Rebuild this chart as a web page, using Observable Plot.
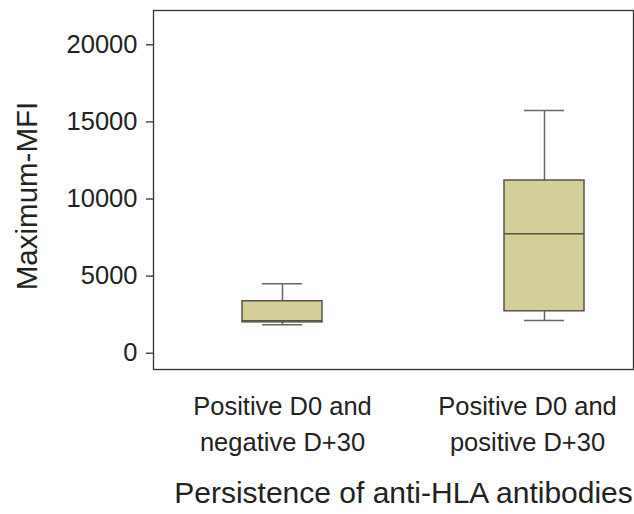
<!DOCTYPE html>
<html>
<head>
<meta charset="utf-8">
<script src="https://cdn.jsdelivr.net/npm/d3@7"></script>
<script src="https://cdn.jsdelivr.net/npm/@observablehq/plot@0.6"></script>
<style>
  html, body { margin: 0; padding: 0; background: #fff; }
  svg { font-family: "Liberation Sans", Arial, sans-serif; }
</style>
</head>
<body>
<div id="chart"></div>
<script>
// Data
const categories = ["Positive D0 and negative D+30", "Positive D0 and positive D+30"];
const tickLabels = ["Positive D0 and\nnegative D+30", "Positive D0 and\npositive D+30"];
const whiskerLow = [1850, 2120];
const q1 = [2000, 2720];
const median = [2100, 7740];
const q3 = [3370, 11200];
const whiskerHigh = [4500, 15740];
const yTicks = [0, 5000, 10000, 15000, 20000];
const xTitle = "Persistence of anti-HLA antibodies";
const yTitle = "Maximum-MFI";

const rows = categories.map((c, i) => ({
  cat: c, lo: whiskerLow[i], q1: q1[i], med: median[i], q3: q3[i], hi: whiskerHigh[i]
}));

const fill = "#d4cf98";
const stroke = "#55554a";

const chart = Plot.plot({
  width: 634,
  height: 514,
  marginLeft: 153,
  marginRight: 1,
  marginTop: 10,
  marginBottom: 145,
  style: {fontFamily: "Liberation Sans, Arial, sans-serif", color: "#222", background: "#fff"},
  x: {type: "band", domain: categories, range: [151, 675], padding: 0, axis: null},
  y: {domain: [-1057, 22225], ticks: yTicks, label: null},
  marks: [
    Plot.axisY(yTicks, {tickSize: 7, tickPadding: 9, fontSize: 25.5, tickFormat: d => String(d), stroke: "#222", strokeWidth: 1.2}),
    Plot.ruleX(rows, {x: "cat", y1: "lo", y2: "q1", stroke: "#666", strokeWidth: 1.5}),
    Plot.ruleX(rows, {x: "cat", y1: "q3", y2: "hi", stroke: "#666", strokeWidth: 1.5}),
    Plot.tickY(rows, {x: "cat", y: "lo", insetLeft: 111, insetRight: 111, stroke: "#666", strokeWidth: 1.5}),
    Plot.tickY(rows, {x: "cat", y: "hi", insetLeft: 111, insetRight: 111, stroke: "#666", strokeWidth: 1.5}),
    Plot.barY(rows, {x: "cat", y1: "q1", y2: "q3", insetLeft: 91, insetRight: 91, fill: fill, stroke: stroke, strokeWidth: 1.5}),
    Plot.tickY(rows, {x: "cat", y: "med", insetLeft: 91, insetRight: 91, stroke: stroke, strokeWidth: 1.5}),
    Plot.frame({stroke: "#333", strokeWidth: 1.3}),
    Plot.text([tickLabels[0]], {frameAnchor: "bottom", x: () => categories[0], lineAnchor: "top", dy: 20, lineHeight: 1.4, fontSize: 25.5, fill: "#222"}),
    Plot.text([tickLabels[1]], {frameAnchor: "bottom", x: () => categories[1], lineAnchor: "top", dy: 20, dx: -17, lineHeight: 1.4, fontSize: 25.5, fill: "#222"}),
    Plot.text([xTitle], {frameAnchor: "bottom", lineAnchor: "bottom", dy: 133, dx: 10, fontSize: 30, fill: "#222"}),
    Plot.text([yTitle], {frameAnchor: "left", textAnchor: "middle", rotate: -90, dx: -126, dy: 6, fontSize: 29.5, fill: "#222"})
  ]
});
document.getElementById("chart").appendChild(chart);
</script>
</body>
</html>
